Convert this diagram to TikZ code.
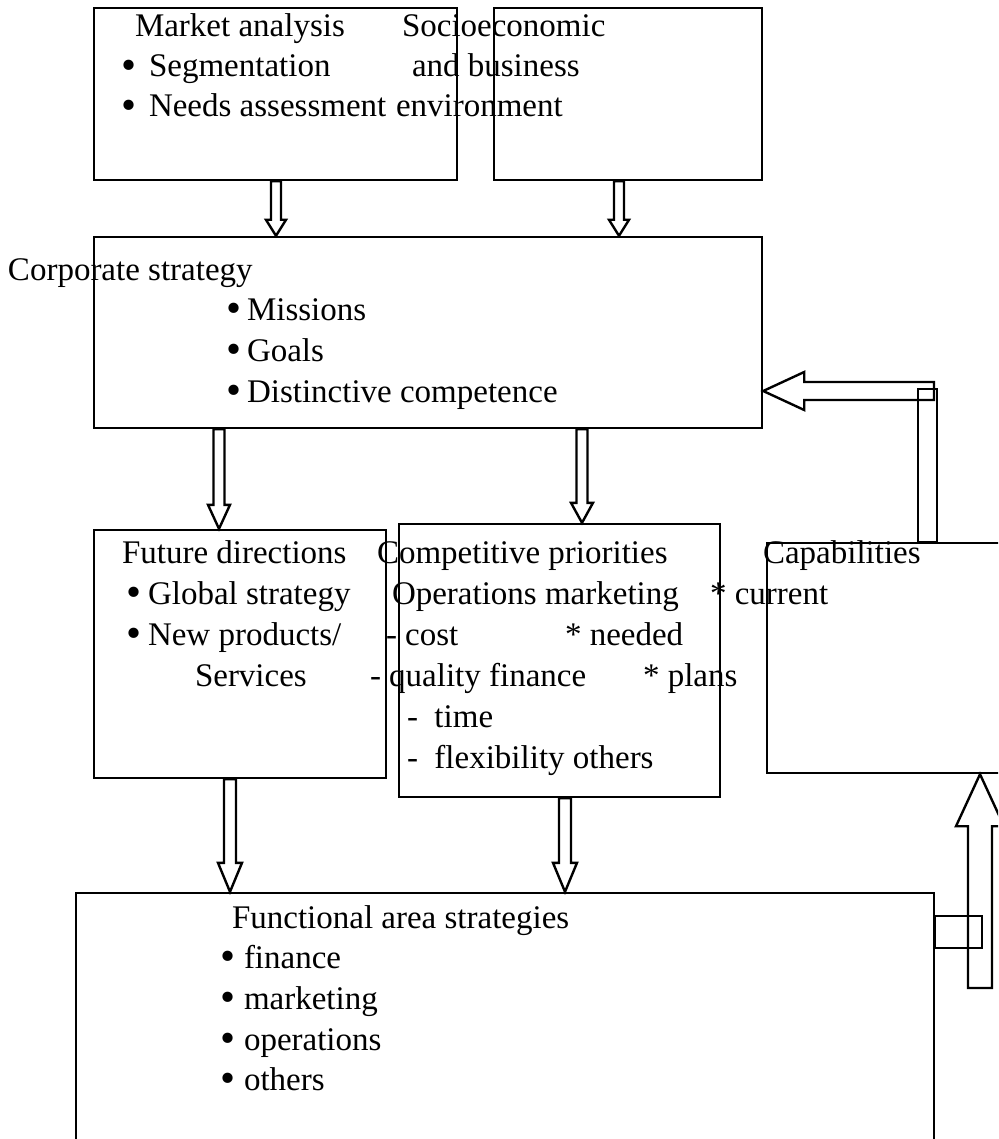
\documentclass[tikz,border=0pt]{standalone}
\usepackage{fontspec}
\setmainfont{Liberation Serif}
\usetikzlibrary{fit,calc}

\tikzset{
  box/.style={draw, line width=1.2pt, inner sep=0pt},
  blk/.style={draw, line width=1.2pt, line join=miter},
  txt/.style={anchor=base west, inner sep=0pt, outer sep=0pt,
    font=\fontsize{16.5pt}{20pt}\selectfont},
}
\newcommand{\bul}[1][12pt]{\makebox[#1][l]{\raisebox{-0.08em}{\scalebox{1.3}{\textbullet}}}}
% hollow block arrow pointing down: tail, tip, shaft half, head half, head length
\newcommand{\blkdown}[5]{%
  \draw[blk] let \p1=#1, \p2=#2 in
    (\x2-#3,\y1) -- (\x2-#3,\y2+#5) -- (\x2-#4,\y2+#5) -- (\x2,\y2)
    -- (\x2+#4,\y2+#5) -- (\x2+#3,\y2+#5) -- (\x2+#3,\y1) -- cycle;}

\begin{document}
\begin{tikzpicture}[x=0.5pt,y=-0.5pt]
\useasboundingbox (0,0) rectangle (998,1139);
\clip (0,0) rectangle (998,1139);

% boxes
\node[box, fit={(94,8) (457,180)}] (mkt) {};
\node[box, fit={(494,8) (762,180)}] (soc) {};
\node[box, fit={(94,237) (762,428)}] (corp) {};
\node[box, fit={(94,530) (386,778)}] (fut) {};
\node[box, fit={(399,524) (720,797)}] (comp) {};
\node[box, fit={(767,543) (1030,773)}] (cap) {};
\node[box, fit={(76,893) (934,1160)}] (func) {};

% texts
\foreach \x/\y/\t [count=\i] in {135/37/Market analysis,
    121/77/{\bul[14pt]Segmentation}, 121/117/{\bul[14pt]Needs assessment}}
  \node[txt] (mkt\i) at (\x,\y) {\t};
\foreach \x/\y/\t [count=\i] in {402/37/Socioeconomic, 412/77/and business,
    396/117/environment}
  \node[txt] (soc\i) at (\x,\y) {\t};
\foreach \x/\y/\t [count=\i] in {8/280/Corporate strategy,
    226/320/{\bul[10.5pt]Missions}, 226/361/{\bul[10.5pt]Goals},
    226/402/{\bul[10.5pt]Distinctive competence}}
  \node[txt] (corp\i) at (\x,\y) {\t};
\foreach \x/\y/\t [count=\i] in {122/563/Future directions,
    126/604/{\bul[11pt]Global strategy}, 126/645/{\bul[11pt]New products/},
    195/686/Services}
  \node[txt] (fut\i) at (\x,\y) {\t};
\foreach \x/\y/\t [count=\i] in {377/563/Competitive priorities,
    392/604/Operations marketing, 386/645/{-~cost}, 565/645/{*~needed},
    370/686/{-~quality finance}, 643/686/{*~plans}, 407/727/{-\ \ time},
    407/768/{-\ \ flexibility others}, 710/604/{*~current}}
  \node[txt] (comp\i) at (\x,\y) {\t};
\node[txt] (cap1) at (763,563) {Capabilities};
\foreach \x/\y/\t [count=\i] in {232/928/Functional area strategies,
    220/968/{\bul finance}, 220/1009/{\bul marketing},
    220/1050/{\bul operations}, 220/1090/{\bul others}}
  \node[txt] (func\i) at (\x,\y) {\t};

% block arrows
\blkdown{(mkt.south -| 276,0)}{(corp.north -| 276,0)}{2.5pt}{5pt}{8pt}
\blkdown{(soc.south -| 619,0)}{(corp.north -| 619,0)}{2.5pt}{5pt}{8pt}
\blkdown{(corp.south -| 219,0)}{(fut.north -| 219,0)}{2.75pt}{5.5pt}{12pt}
\blkdown{(corp.south -| 582,0)}{(comp.north -| 582,0)}{2.75pt}{5.5pt}{10pt}
\blkdown{(fut.south -| 230,0)}{(func.north -| 230,0)}{3pt}{6pt}{14.5pt}
\blkdown{(comp.south -| 565,0)}{(func.north -| 565,0)}{3pt}{6pt}{14.5pt}

% capabilities back to corporate strategy
\coordinate (capbend) at (934,391);
\draw[blk] (cap.north -| 918,0) rectangle (937,389);
\draw[blk] let \p1=(capbend), \p2=(corp.east |- capbend) in
  (\x1,\y1+4.5pt) -- (\x2+20.5pt,\y1+4.5pt) -- (\x2+20.5pt,\y1+9.5pt) -- (\x2,\y1)
  -- (\x2+20.5pt,\y1-9.5pt) -- (\x2+20.5pt,\y1-4.5pt) -- (\x1,\y1-4.5pt) -- cycle;

% functional areas up to capabilities
\coordinate (uptail) at (980,988);
\draw[blk] (func.east |- 0,916) rectangle (982,948);
\draw[blk] let \p1=(uptail), \p2=(cap.south -| uptail) in
  (\x1-6pt,\y1) -- (\x1-6pt,\y2-26pt) -- (\x1-12pt,\y2-26pt) -- (\x2,\y2)
  -- (\x1+12pt,\y2-26pt) -- (\x1+6pt,\y2-26pt) -- (\x1+6pt,\y1) -- cycle;
\end{tikzpicture}
\end{document}
